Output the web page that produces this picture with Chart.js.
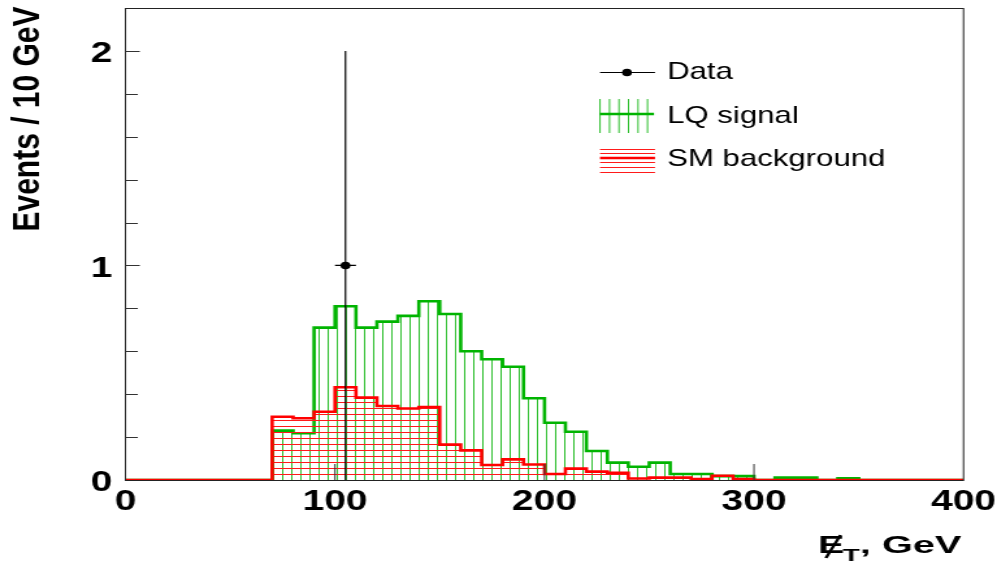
<!DOCTYPE html>
<html>
<head>
<meta charset="utf-8">
<title>Missing ET</title>
<script src="https://cdn.jsdelivr.net/npm/chart.js@4"></script>
<style>
    html, body { margin: 0; padding: 0; background: #fff; }
</style>
</head>
<body>
<!-- canvas is drawn narrow and stretched sideways, like the ROOT output -->
<canvas id="plot" width="767" height="568" style="display:block;width:997px;height:568px"></canvas>
<script>
// Histogram binning (lower bin edges, GeV)
const binEdges = [0, 10, 20, 30, 40, 50, 60, 70, 80, 90,
    100, 110, 120, 130, 140, 150, 160, 170, 180, 190,
    200, 210, 220, 230, 240, 250, 260, 270, 280, 290,
    300, 310, 320, 330, 340, 350, 360, 370, 380, 390];
const binWidth = 10;

// Events / 10 GeV
const lqSignal = [0, 0, 0, 0, 0, 0, 0, 0.23, 0.218, 0.71,
    0.81, 0.71, 0.738, 0.765, 0.833, 0.774, 0.60, 0.563, 0.528, 0.381,
    0.267, 0.225, 0.135, 0.081, 0.062, 0.081, 0.028, 0.028, 0.018, 0.018,
    0, 0.011, 0.011, 0, 0.008, 0, 0, 0, 0, 0];
const smBackground = [0, 0, 0, 0, 0, 0, 0, 0.295, 0.288, 0.318,
    0.432, 0.384, 0.345, 0.333, 0.34, 0.165, 0.138, 0.07, 0.096, 0.072,
    0.028, 0.053, 0.039, 0.033, 0.007, 0.011, 0.011, 0.005, 0.02, 0.005,
    0, 0, 0, 0, 0, 0, 0, 0, 0, 0];

// Observed events (bin centre, count, errors)
const dataX = [105];
const dataY = [1];
const dataErrLow = [1];
const dataErrHigh = [1];

// Axis ticks
const xTicks = [0, 100, 200, 300, 400];
const yLabels = [0, 1, 2];

const STRETCH = 997 / 767;
const sx = v => v / STRETCH;   // page pixel -> canvas pixel (horizontal)
const FONT = '"Liberation Sans", Arial, Helvetica, sans-serif';

function histPoints(values) {
    const pts = binEdges.map((x, i) => ({ x: x, y: values[i] }));
    pts.push({ x: binEdges[binEdges.length - 1] + binWidth, y: values[values.length - 1] });
    return pts;
}

// error bars as line segments separated by gaps
function errorBarPoints() {
    const pts = [];
    dataX.forEach((x, i) => {
        pts.push({ x: x, y: dataY[i] - dataErrLow[i] });
        pts.push({ x: x, y: dataY[i] + dataErrHigh[i] });
        pts.push({ x: x, y: null });
        pts.push({ x: x - binWidth / 2, y: dataY[i] });
        pts.push({ x: x + binWidth / 2, y: dataY[i] });
        pts.push({ x: x, y: null });
    });
    return pts;
}

function makeHatch(kind) {
    const c = document.createElement('canvas');
    const g = c.getContext('2d');
    if (kind === 'vertical') {
        c.width = 7; c.height = 4;
        g.strokeStyle = '#2fbf2f';
        g.lineWidth = 1;
        g.beginPath(); g.moveTo(0.5, 0); g.lineTo(0.5, 4); g.stroke();
    } else {
        c.width = 4; c.height = 6;
        g.strokeStyle = '#ff1a1a';
        g.lineWidth = 1;
        g.beginPath(); g.moveTo(0, 0.5); g.lineTo(4, 0.5); g.stroke();
    }
    return g.createPattern(c, 'repeat');
}

const whiteBackground = {
    id: 'whiteBackground',
    beforeDraw(chart) {
        const ctx = chart.ctx;
        ctx.save();
        ctx.fillStyle = '#fff';
        ctx.fillRect(0, 0, chart.width, chart.height);
        ctx.restore();
    }
};

// frame, inward tick marks, axis titles and legend
const decorations = {
    id: 'decorations',
    afterDraw(chart) {
        const ctx = chart.ctx;
        const a = chart.chartArea;
        const xs = chart.scales.x, ys = chart.scales.y;
        ctx.save();

        ctx.strokeStyle = '#222';
        ctx.lineWidth = 1;
        ctx.strokeRect(a.left, Math.round(a.top) + 0.5, a.right - a.left, Math.round(a.bottom) - Math.round(a.top));

        ctx.strokeStyle = '#333';
        ys.ticks.forEach(t => {
            if (t.value <= 0.001 || t.value >= ys.max - 0.001) return;
            const y = Math.round(ys.getPixelForValue(t.value)) + 0.5;
            const len = Math.abs(t.value - Math.round(t.value)) < 1e-6 ? 11 : 9.5;
            ctx.beginPath(); ctx.moveTo(a.left, y); ctx.lineTo(a.left + len, y); ctx.stroke();
        });
        xs.ticks.forEach(t => {
            if (t.value <= xs.min || t.value >= xs.max) return;
            const x = xs.getPixelForValue(t.value);
            ctx.beginPath(); ctx.moveTo(x, a.bottom); ctx.lineTo(x, a.bottom - 16); ctx.stroke();
        });

        // y title
        ctx.fillStyle = '#000';
        ctx.save();
        ctx.translate(sx(28.5), 119);
        ctx.rotate(-Math.PI / 2);
        ctx.font = 'bold 30px ' + FONT;
        ctx.textAlign = 'center';
        ctx.textBaseline = 'middle';
        ctx.fillText('Events / 10 GeV', 0, 0);
        ctx.restore();

        // x title: missing E_T
        const big = 'bold 24px ' + FONT, small = 'bold 17px ' + FONT;
        ctx.font = big;
        const wE = ctx.measureText('E').width;
        const wRest = ctx.measureText(', GeV').width;
        ctx.font = small;
        const wT = ctx.measureText('T').width;
        const total = wE + wT + wRest;
        const fit = (sx(963) - sx(818)) / total;
        ctx.save();
        ctx.translate(sx(818), 553);
        ctx.scale(fit, 1);
        ctx.textBaseline = 'alphabetic';
        ctx.textAlign = 'left';
        ctx.font = big;
        ctx.fillText('E', 0, 0);
        ctx.strokeStyle = '#000';
        ctx.lineWidth = 2;
        ctx.beginPath(); ctx.moveTo(wE * 0.3, 5); ctx.lineTo(wE * 0.85, -18); ctx.stroke();
        ctx.font = small;
        ctx.fillText('T', wE - 1, 8);
        ctx.font = big;
        ctx.fillText(', GeV', wE + wT - 1, 0);
        ctx.restore();

        // legend
        const lx0 = sx(600), lx1 = sx(655);
        ctx.strokeStyle = '#000';
        ctx.lineWidth = 1;
        ctx.beginPath(); ctx.moveTo(lx0, 72.5); ctx.lineTo(lx1, 72.5); ctx.stroke();
        ctx.beginPath(); ctx.arc(sx(627), 72.5, 3.8, 0, Math.PI * 2); ctx.fillStyle = '#000'; ctx.fill();

        ctx.strokeStyle = '#2fbf2f';
        for (let k = 0; k < 6; k++) {
            const x = sx(600 + 9.5 * k);
            ctx.beginPath(); ctx.moveTo(x, 99); ctx.lineTo(x, 133); ctx.stroke();
        }
        ctx.strokeStyle = '#00b400';
        ctx.lineWidth = 2.5;
        ctx.beginPath(); ctx.moveTo(lx0, 114); ctx.lineTo(sx(654), 114); ctx.stroke();

        ctx.strokeStyle = '#ff1a1a';
        ctx.lineWidth = 1;
        [149.5, 153.5, 162.5, 167.5, 172.5].forEach(y => {
            ctx.beginPath(); ctx.moveTo(lx0, y); ctx.lineTo(lx1, y); ctx.stroke();
        });
        ctx.strokeStyle = '#ff0000';
        ctx.lineWidth = 2.5;
        ctx.beginPath(); ctx.moveTo(lx0, 158); ctx.lineTo(lx1, 158); ctx.stroke();

        ctx.fillStyle = '#000';
        ctx.font = '24px ' + FONT;
        ctx.textAlign = 'left';
        ctx.textBaseline = 'middle';
        ctx.fillText('Data', sx(667), 72);
        ctx.fillText('LQ signal', sx(667), 116);
        ctx.fillText('SM background', sx(667), 159);

        ctx.restore();
    }
};

// keep the plot frame at fixed page pixels
function fixX(s) {
    s.height = 88;
    s.paddingLeft = 0; s.paddingRight = 0; s.paddingTop = 0; s.paddingBottom = 0;
}
function fixY(s) {
    s.width = sx(125.5);
    s.paddingLeft = 0; s.paddingRight = 0; s.paddingTop = 0; s.paddingBottom = 0;
}

new Chart(document.getElementById('plot'), {
    type: 'line',
    data: {
        datasets: [
            {
                label: 'Data',
                data: dataX.map((x, i) => ({ x: x, y: dataY[i] })),
                showLine: false,
                pointRadius: 3.8,
                pointBackgroundColor: '#000',
                pointBorderWidth: 0,
                order: 0
            },
            {
                label: 'Data errors',
                data: errorBarPoints(),
                borderColor: '#000',
                borderWidth: 1.2,
                pointRadius: 0,
                spanGaps: false,
                fill: false,
                order: 1
            },
            {
                label: 'SM background',
                data: histPoints(smBackground),
                stepped: true,
                borderColor: '#ff0000',
                borderWidth: 2.6,
                backgroundColor: makeHatch('horizontal'),
                fill: 'origin',
                pointRadius: 0,
                order: 2
            },
            {
                label: 'LQ signal',
                data: histPoints(lqSignal),
                stepped: true,
                borderColor: '#00b400',
                borderWidth: 2.6,
                backgroundColor: makeHatch('vertical'),
                fill: 'origin',
                pointRadius: 0,
                order: 3
            }
        ]
    },
    options: {
        responsive: false,
        animation: false,
        devicePixelRatio: 1,
        layout: { autoPadding: false, padding: { top: 8, right: 767 - sx(963.5), left: 0, bottom: 0 } },
        plugins: {
            legend: { display: false },
            tooltip: { enabled: false }
        },
        scales: {
            x: {
                type: 'linear',
                min: 0,
                max: 400,
                afterBuildTicks: s => { s.ticks = xTicks.map(v => ({ value: v })); },
                afterFit: fixX,
                grid: { display: false, drawTicks: false },
                border: { display: false },
                ticks: {
                    autoSkip: false,
                    maxRotation: 0,
                    padding: 4,
                    color: '#000',
                    font: { family: FONT, size: 30, weight: 'bold' }
                }
            },
            y: {
                min: 0,
                max: 2.2,
                afterFit: fixY,
                grid: { display: false, drawTicks: false },
                border: { display: false },
                ticks: {
                    stepSize: 0.2,
                    autoSkip: false,
                    padding: 10,
                    labelOffset: 3,
                    color: '#000',
                    font: { family: FONT, size: 30, weight: 'bold' },
                    callback: v => {
                        const r = Math.round(v);
                        return Math.abs(v - r) < 1e-6 && yLabels.includes(r) ? String(r) : '';
                    }
                }
            }
        }
    },
    plugins: [whiteBackground, decorations]
});
</script>
</body>
</html>
